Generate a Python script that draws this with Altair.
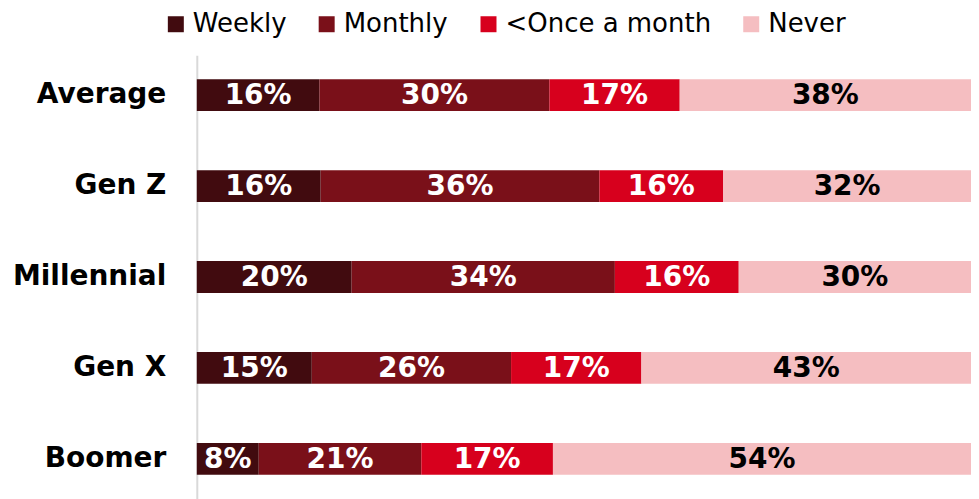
import altair as alt
import pandas as pd

categories = ["Average", "Gen Z", "Millennial", "Gen X", "Boomer"]
series = ["Weekly", "Monthly", "<Once a month", "Never"]
weekly = [16, 16, 20, 15, 8]
monthly = [30, 36, 34, 26, 21]
less_than_monthly = [17, 16, 16, 17, 17]
never = [38, 32, 30, 43, 54]
colors = ["#410b0f", "#7a1019", "#d7001d", "#f5bec1"]

values_by_series = [weekly, monthly, less_than_monthly, never]
rows = []
for si, (s, vals) in enumerate(zip(series, values_by_series)):
    for ci, c in enumerate(categories):
        rows.append({"cat": c, "series": s, "order": si, "value": vals[ci]})
df = pd.DataFrame(rows)

LABEL_FONT = "DejaVu Sans"

base = (
    alt.Chart(df)
    .transform_joinaggregate(total="sum(value)", groupby=["cat"])
    .transform_window(cum="sum(value)", sort=[alt.SortField("order")], groupby=["cat"],
                      frame=[None, 0])
    .transform_calculate(
        start="(datum.cum - datum.value) / datum.total",
        end="datum.cum / datum.total",
        mid="(datum.cum - datum.value / 2) / datum.total",
        label="datum.value + '%'",
    )
)

yenc = alt.Y(
    "cat:N",
    sort=categories,
    scale=alt.Scale(paddingInner=0.65, paddingOuter=0.264),
    axis=alt.Axis(
        title=None,
        ticks=False,
        labelFontSize=28,
        labelFont=LABEL_FONT,
        labelFontWeight="bold",
        labelColor="#000000",
        labelPadding=31,
        domainColor="#d9d9d9",
        domainWidth=2,
    ),
)

bars = base.mark_bar().encode(
    x=alt.X("start:Q", scale=alt.Scale(domain=[0, 1]), axis=None),
    x2="end:Q",
    y=yenc,
    color=alt.Color(
        "series:N",
        sort=series,
        scale=alt.Scale(domain=series, range=colors),
        legend=alt.Legend(
            title=None,
            orient="none",
            direction="horizontal",
            legendX=-34,
            legendY=-44,
            symbolType="square",
            symbolSize=256,
            symbolStrokeWidth=0,
            labelFont=LABEL_FONT,
            labelFontSize=26,
            labelColor="#000000",
            labelOffset=4,
            labelLimit=400,
            columnPadding=27,
            padding=0,
        ),
    ),
)

labels = base.mark_text(
    font=LABEL_FONT, fontSize=28, fontWeight="bold", baseline="middle", dy=1
).encode(
    x=alt.X("mid:Q", scale=alt.Scale(domain=[0, 1])),
    y=alt.Y("cat:N", sort=categories),
    text="label:N",
    color=alt.condition(alt.datum.series == "Never", alt.value("#000000"), alt.value("#ffffff")),
)

chart = (
    alt.layer(bars, labels)
    .properties(
        width=775,
        height=444,
        autosize=alt.AutoSizeParams(type="none"),
        padding={"left": 189, "top": 47, "right": 0, "bottom": 0},
    )
    .configure_view(stroke=None)
)

chart.save("out.html", embed_options={"renderer": "svg", "actions": False})
